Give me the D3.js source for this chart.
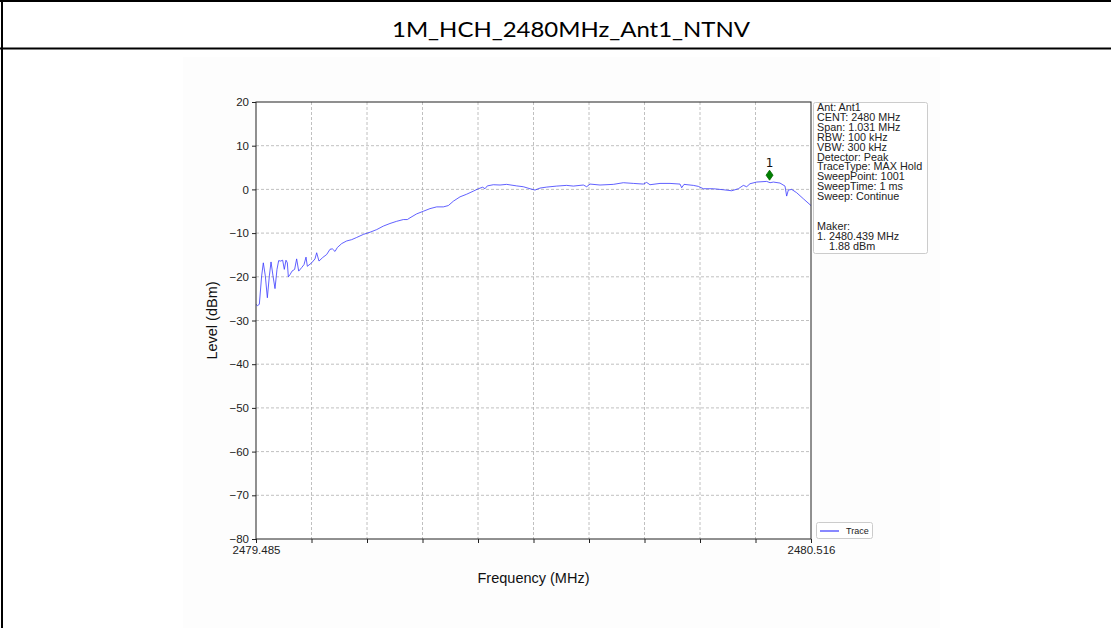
<!DOCTYPE html>
<html>
<head>
  <meta charset="utf-8">
  <title>1M_HCH_2480MHz_Ant1_NTNV</title>
  <style>
    body { margin: 0; background: #fff; }
    svg { display: block; }
  </style>
</head>
<body>
  <div class="area"></div>

  <script src="https://cdn.jsdelivr.net/npm/d3@7"></script>
  <script type="text/javascript">

  var w = 1111, h = 628;

  // trace: frequency (MHz) / level (dBm)
  var freqs = [
    2479.4850, 2479.4875, 2479.4912, 2479.4955, 2479.4986, 2479.5023, 2479.5061, 2479.5098,
    2479.5129, 2479.5166, 2479.5203, 2479.5240, 2479.5271, 2479.5308, 2479.5345, 2479.5376,
    2479.5407, 2479.5432, 2479.5451, 2479.5482, 2479.5519, 2479.5568, 2479.5605, 2479.5643,
    2479.5698, 2479.5742, 2479.5779, 2479.5804, 2479.5884, 2479.5946, 2479.5977, 2479.6020,
    2479.6088, 2479.6163, 2479.6225, 2479.6268, 2479.6318, 2479.6361, 2479.6442, 2479.6534,
    2479.6627, 2479.6720, 2479.6844, 2479.6968, 2479.7092, 2479.7215, 2479.7339, 2479.7463,
    2479.7587, 2479.7661, 2479.7711, 2479.7835, 2479.7959, 2479.8082, 2479.8206, 2479.8330,
    2479.8423, 2479.8516, 2479.8640, 2479.8764, 2479.8887, 2479.8980, 2479.9061, 2479.9104,
    2479.9147, 2479.9259, 2479.9383, 2479.9506, 2479.9692, 2479.9816, 2479.9940, 2480.0033,
    2480.0126, 2480.0250, 2480.0436, 2480.0621, 2480.0745, 2480.0931, 2480.0993, 2480.1055,
    2480.1240, 2480.1488, 2480.1674, 2480.1860, 2480.2045, 2480.2107, 2480.2169, 2480.2355,
    2480.2541, 2480.2727, 2480.2758, 2480.2801, 2480.2974, 2480.3067, 2480.3160, 2480.3346,
    2480.3532, 2480.3687, 2480.3810, 2480.3903, 2480.3965, 2480.4027, 2480.4151, 2480.4337,
    2480.4399, 2480.4461, 2480.4584, 2480.4677, 2480.4708, 2480.4739, 2480.4801, 2480.4894,
    2480.5018, 2480.5160
  ];
  var levels = [
    -26.3, -26.6, -26.3, -19.8, -16.8, -19.8, -24.8, -19.8,
    -16.6, -19.8, -22.7, -18.3, -16.3, -16.4, -16.2, -18.3,
    -16.2, -16.8, -20.0, -19.5, -18.7, -18.3, -15.9, -18.7,
    -17.9, -17.2, -15.5, -17.6, -16.8, -15.9, -14.5, -16.4,
    -15.6, -14.9, -13.7, -13.6, -14.2, -13.3, -12.4, -11.8,
    -11.5, -11.0, -10.3, -9.8, -9.2, -8.4, -7.8, -7.3,
    -6.9, -6.9, -6.5, -5.6, -5.0, -4.4, -4.0, -4.0,
    -3.7, -2.7, -1.7, -1.1, -0.4, 0.15, 0.5, 0.15,
    0.8, 1.07, 1.0, 1.15, 0.8, 0.61, 0.15, -0.15,
    0.3, 0.53, 0.76, 0.92, 0.76, 1.0, 0.61, 1.22,
    1.0, 1.15, 1.53, 1.37, 1.22, 1.6, 1.07, 1.37,
    1.37, 1.22, 0.38, 1.15, 0.92, 0.69, 0.15, 0.15,
    -0.08, -0.31, 0.15, 0.92, 0.61, 1.3, 1.68, 1.83,
    1.53, 1.68, 1.45, 0.76, -1.53, -0.15, 0.0, -0.76,
    -2.14, -3.7
  ];

  var xStart = 2479.485, xStop = 2480.516;
  var xTickCount = 10;
  var yTicks = [-80, -70, -60, -50, -40, -30, -20, -10, 0, 10, 20];

  var marker = { label: '1', freq: 2480.439, level: 1.88 };

  var infoLines = [
    'Ant: Ant1', 'CENT: 2480 MHz', 'Span: 1.031 MHz', 'RBW: 100 kHz', 'VBW: 300 kHz',
    'Detector: Peak', 'TraceType: MAX Hold', 'SweepPoint: 1001', 'SweepTime: 1 ms',
    'Sweep: Continue', '', '', 'Maker:', '1. 2480.439 MHz', '    1.88 dBm'
  ];

  var title = '1M_HCH_2480MHz_Ant1_NTNV';

  var svg = d3.select('.area')
    .append('svg')
    .attr('width', w)
    .attr('height', h);

  // table frame round the title
  svg.append('line').attr('x1', 0).attr('x2', w).attr('y1', 1).attr('y2', 1)
    .attr('stroke', '#000').attr('stroke-width', 2);
  svg.append('line').attr('x1', 0).attr('x2', w).attr('y1', 48.5).attr('y2', 48.5)
    .attr('stroke', '#000').attr('stroke-width', 2);
  svg.append('line').attr('x1', 2).attr('x2', 2).attr('y1', 0).attr('y2', h)
    .attr('stroke', '#000').attr('stroke-width', 2);

  svg.append('text')
    .attr('x', 571).attr('y', 37)
    .attr('text-anchor', 'middle')
    .attr('font-family', 'Lato, "Open Sans", sans-serif')
    .attr('font-size', 21)
    .attr('textLength', 358)
    .attr('lengthAdjust', 'spacingAndGlyphs')
    .text(title);

  // the embedded chart picture
  svg.append('rect').attr('x', 183).attr('y', 57).attr('width', 757).attr('height', h - 57)
    .attr('fill', '#fdfdfd');

  var m = { left: 256, right: 811, top: 102, bottom: 539 };

  var x = d3.scaleLinear().domain([xStart, xStop]).range([m.left, m.right]);
  var y = d3.scaleLinear().domain([-80, 20]).range([m.bottom, m.top]);

  svg.append('rect')
    .attr('x', m.left).attr('y', m.top)
    .attr('width', m.right - m.left).attr('height', m.bottom - m.top)
    .attr('fill', '#fff');

  var xTickVals = d3.range(xTickCount + 1).map(function(i){
    return xStart + (xStop - xStart) * i / xTickCount;
  });

  // grid
  var grid = svg.append('g');
  grid.selectAll('line.gx').data(xTickVals.slice(1, -1)).enter().append('line')
    .attr('x1', function(d){ return x(d); }).attr('x2', function(d){ return x(d); })
    .attr('y1', m.top).attr('y2', m.bottom)
    .attr('stroke', '#b0b0b0').attr('stroke-width', 0.8).attr('stroke-dasharray', '3,2');
  grid.selectAll('line.gy').data(yTicks.slice(1, -1)).enter().append('line')
    .attr('x1', m.left).attr('x2', m.right)
    .attr('y1', function(d){ return y(d); }).attr('y2', function(d){ return y(d); })
    .attr('stroke', '#b0b0b0').attr('stroke-width', 0.8).attr('stroke-dasharray', '3,2');

  // trace
  var pts = freqs.map(function(f, i){ return [f, levels[i]]; });
  var line = d3.line()
    .x(function(d){ return x(d[0]); })
    .y(function(d){ return y(d[1]); });

  svg.append('path')
    .datum(pts)
    .attr('d', line)
    .attr('fill', 'none')
    .attr('stroke', '#3a3aff')
    .attr('stroke-opacity', 0.8)
    .attr('stroke-width', 1);

  // axes
  var yAxis = d3.axisLeft(y).tickValues(yTicks).tickSize(4).tickPadding(3)
    .tickFormat(d3.format('d'));
  var xAxis = d3.axisBottom(x).tickValues(xTickVals).tickSize(4).tickPadding(3)
    .tickFormat(function(d, i){ return (i === 0 || i === xTickCount) ? d3.format('.3f')(d) : ''; });

  var gy = svg.append('g').attr('transform', 'translate(' + m.left + ',0)').call(yAxis);
  var gx = svg.append('g').attr('transform', 'translate(0,' + m.bottom + ')').call(xAxis);
  [gx, gy].forEach(function(g){
    g.selectAll('text').attr('font-family', '"Liberation Sans", Arial, sans-serif')
      .attr('font-size', 11.5).attr('fill', '#222');
    g.selectAll('line').attr('stroke', '#222');
    g.select('.domain').remove();
  });

  // frame of the plot
  svg.append('rect')
    .attr('x', m.left).attr('y', m.top)
    .attr('width', m.right - m.left).attr('height', m.bottom - m.top)
    .attr('fill', 'none').attr('stroke', '#222').attr('stroke-width', 1);

  // axis labels
  svg.append('text')
    .attr('transform', 'translate(217,' + ((m.top + m.bottom) / 2) + ') rotate(-90)')
    .attr('text-anchor', 'middle')
    .attr('font-family', '"Liberation Sans", Arial, sans-serif')
    .attr('font-size', 14.5).attr('fill', '#111')
    .text('Level (dBm)');
  svg.append('text')
    .attr('x', (m.left + m.right) / 2).attr('y', 583)
    .attr('text-anchor', 'middle')
    .attr('font-family', '"Liberation Sans", Arial, sans-serif')
    .attr('font-size', 14.5).attr('fill', '#111')
    .text('Frequency (MHz)');

  // marker
  var mx = x(marker.freq), my = y(marker.level) - 6;
  svg.append('path')
    .attr('d', 'M' + mx + ',' + (my - 5) + 'L' + (mx + 3.5) + ',' + my + 'L' + mx + ',' + (my + 5) + 'L' + (mx - 3.5) + ',' + my + 'Z')
    .attr('fill', '#008000').attr('stroke', '#006400').attr('stroke-width', 0.8);
  svg.append('text')
    .attr('x', mx).attr('y', my - 8)
    .attr('text-anchor', 'middle')
    .attr('font-family', '"DejaVu Sans", sans-serif')
    .attr('font-size', 12).attr('fill', '#111')
    .text(marker.label);

  // info box
  var info = svg.append('g');
  info.append('rect')
    .attr('x', 813.5).attr('y', 102.5).attr('width', 114).attr('height', 151)
    .attr('rx', 2).attr('fill', '#fff').attr('stroke', '#ccc');
  info.selectAll('text').data(infoLines).enter().append('text')
    .attr('x', 817)
    .attr('y', function(d, i){ return 111 + i * 9.9; })
    .attr('font-family', '"Liberation Sans", Arial, sans-serif')
    .attr('font-size', 10.8).attr('fill', '#222')
    .attr('xml:space', 'preserve')
    .text(function(d){ return d; });

  // legend
  var lg = svg.append('g');
  lg.append('rect')
    .attr('x', 816.5).attr('y', 522.5).attr('width', 56).attr('height', 16)
    .attr('rx', 2).attr('fill', '#fff').attr('stroke', '#ccc');
  lg.append('line').attr('x1', 820).attr('x2', 839).attr('y1', 531).attr('y2', 531)
    .attr('stroke', '#3a3aff').attr('stroke-opacity', 0.8).attr('stroke-width', 1.5);
  lg.append('text').attr('x', 846).attr('y', 534)
    .attr('font-family', '"Liberation Sans Narrow", "Liberation Sans", Arial, sans-serif')
    .attr('font-size', 9).attr('fill', '#222')
    .text('Trace');

  </script>

</body>
</html>
